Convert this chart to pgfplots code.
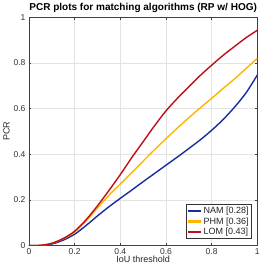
\documentclass[border=0pt]{standalone}
\usepackage{pgfplots}
\pgfplotsset{compat=1.18}
\usepackage{fontspec}
\setmainfont{Liberation Sans}
\definecolor{cblue}{RGB}{25,45,160}
\definecolor{corange}{RGB}{255,180,0}
\definecolor{cred}{RGB}{190,15,20}
\begin{document}
\begin{tikzpicture}
\begin{axis}[
  scale only axis, width=228pt, height=228pt,
  xmin=0, xmax=1, ymin=0, ymax=1,
  xtick={0,0.2,...,1}, ytick={0,0.2,...,1},
  xticklabels={0,0.2,0.4,0.6,0.8,1}, yticklabels={0,0.2,0.4,0.6,0.8,1},
  tick align=inside, tick style={black!75, thin},
  major tick length=2.5pt,
  grid=major, grid style={black!11, line width=0.5pt},
  axis line style={black!75},
  ticklabel style={font=\fontsize{8.5}{9}\selectfont, text=black!80},
  xticklabel style={yshift=1pt},
  xlabel={IoU threshold}, ylabel={PCR},
  label style={font=\fontsize{9}{10}\selectfont, text=black!85},
  xlabel style={yshift=5pt}, ylabel style={yshift=-3pt},
  title={\bfseries PCR plots for matching algorithms (RP w/ HOG)},
  title style={font=\fontsize{10}{11}\selectfont, yshift=-5pt},
  legend style={at={(0.974,0.03)}, anchor=south east, font=\fontsize{9}{10}\selectfont, draw=black!80, inner sep=0.5pt, row sep=-1.5pt, text=black!85},
  legend cell align=left,
  legend image code/.code={\draw[#1, line width=2pt] (0cm,0pt) -- (0.45cm,0pt);},
  every axis plot/.append style={line width=1.4pt, smooth},
]
\addplot[cblue] coordinates {(0,0) (0.05,0.001) (0.1,0.007) (0.15,0.024) (0.2,0.05) (0.25,0.088) (0.3,0.13) (0.35,0.17) (0.4,0.207) (0.45,0.243) (0.5,0.28) (0.55,0.316) (0.6,0.352) (0.65,0.388) (0.7,0.425) (0.75,0.463) (0.8,0.505) (0.85,0.552) (0.9,0.606) (0.95,0.668) (1.0,0.747)};
\addlegendentry{NAM [0.28]}
\addplot[corange] coordinates {(0,0) (0.05,0.001) (0.1,0.01) (0.15,0.03) (0.2,0.06) (0.25,0.108) (0.3,0.165) (0.35,0.22) (0.4,0.27) (0.45,0.32) (0.5,0.37) (0.55,0.42) (0.6,0.468) (0.65,0.515) (0.7,0.56) (0.75,0.603) (0.8,0.645) (0.85,0.688) (0.9,0.73) (0.95,0.775) (1.0,0.82)};
\addlegendentry{PHM [0.36]}
\addplot[cred] coordinates {(0,0) (0.05,0.001) (0.1,0.01) (0.15,0.031) (0.2,0.063) (0.25,0.113) (0.3,0.174) (0.35,0.241) (0.4,0.311) (0.45,0.385) (0.5,0.455) (0.55,0.525) (0.6,0.59) (0.65,0.645) (0.7,0.695) (0.75,0.745) (0.8,0.79) (0.85,0.833) (0.9,0.872) (0.95,0.91) (1.0,0.943)};
\addlegendentry{LOM [0.43]}
\end{axis}
\end{tikzpicture}
\end{document}
